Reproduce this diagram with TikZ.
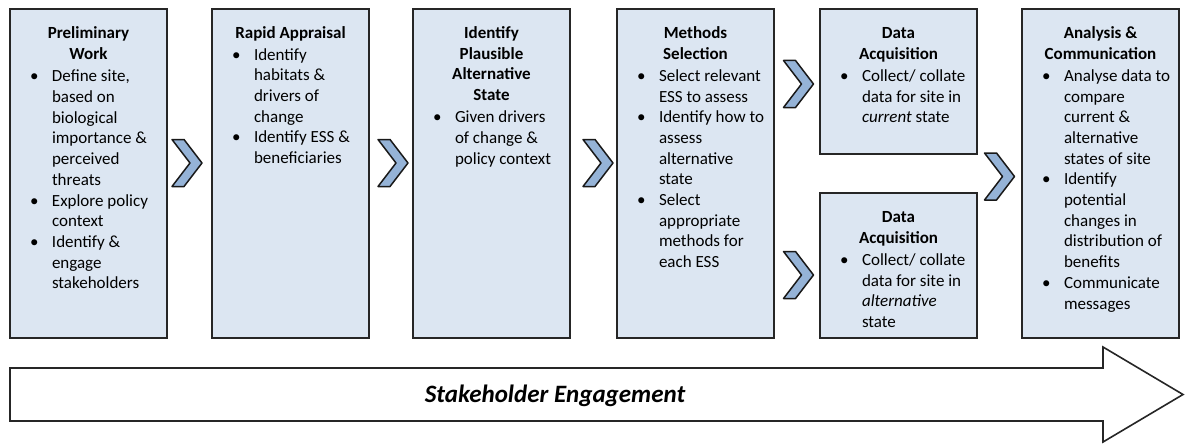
\documentclass[tikz,border=0pt]{standalone}
\usepackage{fontspec}
\setmainfont{Carlito}
\usepackage{array}
\usetikzlibrary{positioning}

\definecolor{boxblue}{RGB}{220,230,242}
\definecolor{chevblue}{RGB}{149,179,215}

% text of a stage: heading rows, then bullet rows
\newcommand{\stagetext}[1]{\begin{tabular}{@{\hspace{20pt}}p{22pt}@{}l@{}}#1\end{tabular}}
\newcommand{\hd}[1]{\multicolumn{2}{@{}c@{}}{\makebox[157pt]{\bfseries #1}}}
\newcommand{\bul}{\textbullet}

\tikzset{
  stage/.style={shape=rectangle,draw=black!85,line width=1.6pt,fill=boxblue,
    minimum width=157pt,inner sep=0pt,outer sep=0pt},
  stagetxt/.style={inner sep=0pt,outer sep=0pt,font={\fontsize{17}{20.7}\selectfont}},
  chevron/.pic={\draw[fill=chevblue,draw=black!90,line width=1.5pt,line join=round]
    (-15,-23.5) -- (-3,-23.5) -- (15,0) -- (-3,23.5) -- (-15,23.5) -- (3,0) -- cycle;}
}

\begin{document}
\begin{tikzpicture}[x=1pt,y=-1pt]
\useasboundingbox (0,0) rectangle (1185,444);

% the six stages
\node[stage,minimum height=329pt,anchor=north west] (prelim) at (10,9) {};
\node[stage,minimum height=329pt,right=45pt of prelim.north east,anchor=north west] (rapid) {};
\node[stage,minimum height=329pt,right=44pt of rapid.north east,anchor=north west] (plausible) {};
\node[stage,minimum height=329pt,right=47pt of plausible.north east,anchor=north west] (methods) {};
\node[stage,minimum height=145pt,right=46pt of methods.north east,anchor=north west] (current) {};
\node[stage,minimum height=145pt,below=39pt of current.south west,anchor=north west] (alternative) {};
\node[stage,minimum height=329pt,right=45pt of current.north east,anchor=north west] (analysis) {};

\node[stagetxt,below=15pt of prelim.north] (prelim text) {\stagetext{
  \hd{Preliminary}\\ \hd{Work}\\[2pt]
  \bul & Define site,\\ & based on\\ & biological\\ & importance \&\\ & perceived\\ & threats\\
  \bul & Explore policy\\ & context\\
  \bul & Identify \&\\ & engage\\ & stakeholders\\}};
\node[stagetxt,below=15pt of rapid.north] (rapid text) {\stagetext{
  \hd{Rapid Appraisal}\\[1pt]
  \bul & Identify\\ & habitats \&\\ & drivers of\\ & change\\
  \bul & Identify ESS \&\\ & beneficiaries\\}};
\node[stagetxt,below=15pt of plausible.north] (plausible text) {\stagetext{
  \hd{Identify}\\ \hd{Plausible}\\ \hd{Alternative}\\ \hd{State}\\[1.5pt]
  \bul & Given drivers\\ & of change \&\\ & policy context\\}};
\node[stagetxt,below=15pt of methods.north] (methods text) {\stagetext{
  \hd{Methods}\\ \hd{Selection}\\[1.5pt]
  \bul & Select relevant\\ & ESS to assess\\
  \bul & Identify how to\\ & assess\\ & alternative\\ & state\\
  \bul & Select\\ & appropriate\\ & methods for\\ & each ESS\\}};
\node[stagetxt,below=15pt of current.north] (current text) {\stagetext{
  \hd{Data}\\ \hd{Acquisition}\\[1.5pt]
  \bul & Collect/ collate\\ & data for site in\\ & \textit{current} state\\}};
\node[stagetxt,below=15pt of alternative.north] (alternative text) {\stagetext{
  \hd{Data}\\ \hd{Acquisition}\\[1.5pt]
  \bul & Collect/ collate\\ & data for site in\\ & \textit{alternative}\\ & state\\}};
\node[stagetxt,below=15pt of analysis.north] (analysis text) {\stagetext{
  \hd{Analysis \&}\\ \hd{Communication}\\[1.5pt]
  \bul & Analyse data to\\ & compare\\ & current \&\\ & alternative\\ & states of site\\
  \bul & Identify\\ & potential\\ & changes in\\ & distribution of\\ & benefits\\
  \bul & Communicate\\ & messages\\}};

% chevrons between stages
\pic at (187,163) {chevron};
\pic at (393,163) {chevron};
\pic at (598,163) {chevron};
\pic at (798.5,84) {chevron};
\pic at (798.5,275) {chevron};
\pic at (999.5,176.5) {chevron};

% engagement arrow
\draw[draw=black!85,line width=1.6pt,fill=white,line join=miter]
  (10,368) -- (1103,368) -- (1103,347) -- (1183,394.5) -- (1103,442) -- (1103,421) -- (10,421) -- cycle;
\node[inner sep=0pt,font={\fontsize{25}{30}\selectfont\bfseries\itshape}] (engage) at (555,396) {Stakeholder Engagement};
\end{tikzpicture}
\end{document}
